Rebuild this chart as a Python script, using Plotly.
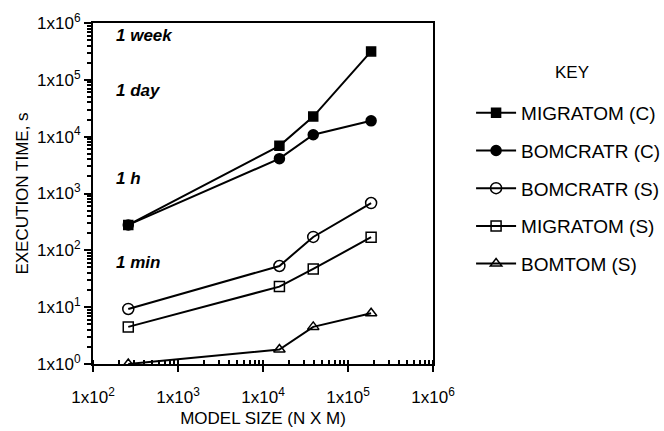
import plotly.graph_objects as go

# ---- data ----
model_size = [260, 15600, 39000, 187000]
migratom_c = [280, 6900, 22600, 316000]
bomcratr_c = [280, 4100, 10800, 19000]
bomcratr_s = [9.3, 53, 172, 680]
migratom_s = [4.5, 23, 47, 170]
bomtom_s = [1.0, 1.8, 4.5, 7.8]

series_names = ["MIGRATOM (C)", "BOMCRATR (C)", "BOMCRATR (S)", "MIGRATOM (S)", "BOMTOM (S)"]
series_values = [migratom_c, bomcratr_c, bomcratr_s, migratom_s, bomtom_s]
series_symbols = ["square", "circle", "circle-open", "square-open", "triangle-up-open"]
series_sizes = [9, 10, 11, 10, 10]

x_tick_vals = [1e2, 1e3, 1e4, 1e5, 1e6]
x_tick_text = ["1x10<sup>2</sup>", "1x10<sup>3</sup>", "1x10<sup>4</sup>", "1x10<sup>5</sup>", "1x10<sup>6</sup>"]
y_tick_vals = [1e0, 1e1, 1e2, 1e3, 1e4, 1e5, 1e6]
y_tick_text = ["1x10<sup>0</sup>", "1x10<sup>1</sup>", "1x10<sup>2</sup>", "1x10<sup>3</sup>",
               "1x10<sup>4</sup>", "1x10<sup>5</sup>", "1x10<sup>6</sup>"]

time_labels = ["1 week", "1 day", "1 h", "1 min"]
time_label_y = [0.962, 0.803, 0.545, 0.299]

FONT = "Liberation Sans, Arial, sans-serif"

fig = go.Figure()
for i, (name, vals, sym, sz) in enumerate(zip(series_names, series_values, series_symbols, series_sizes)):
    fig.add_trace(go.Scatter(
        x=model_size, y=vals, name=name, mode="lines+markers",
        legendgroup=f"g{i}",
        line=dict(color="black", width=2),
        marker=dict(symbol=sym, size=sz, color="black",
                    line=dict(color="black", width=1.5)),
    ))

for txt, yy in zip(time_labels, time_label_y):
    fig.add_annotation(
        x=0.062, y=yy, xref="paper", yref="paper", text=txt, showarrow=False,
        xanchor="left", yanchor="middle",
        font=dict(family=FONT, size=17, color="black", weight="bold", style="italic"),
    )

fig.add_annotation(
    x=1.409, y=0.856, xref="paper", yref="paper", text="KEY", showarrow=False,
    xanchor="center", yanchor="middle", font=dict(family=FONT, size=17, color="black"),
)

fig.update_layout(
    width=664, height=431,
    margin=dict(l=93, r=231, t=23, b=67, autoexpand=False),
    paper_bgcolor="white", plot_bgcolor="white",
    font=dict(family=FONT, size=17, color="black"),
    legend=dict(
        x=1.112, y=0.792, xanchor="left", yanchor="top",
        font=dict(size=19), tracegroupgap=10,
        itemwidth=40, bgcolor="rgba(0,0,0,0)",
    ),
    xaxis=dict(
        type="log", range=[2, 6],
        tickvals=x_tick_vals, ticktext=x_tick_text,
        ticks="outside", ticklen=6, tickwidth=1.5, tickcolor="black",
        ticklabelstandoff=11,
        showline=True, linecolor="black", linewidth=2, mirror=True,
        showgrid=False, zeroline=False,
        minor=dict(ticks="inside", ticklen=4, tickcolor="black", dtick="D1", showgrid=False),
        title=dict(text="MODEL SIZE (N X M)", standoff=6, font=dict(size=17)),
        tickfont=dict(size=17),
    ),
    yaxis=dict(
        type="log", range=[0, 6],
        tickvals=y_tick_vals, ticktext=y_tick_text,
        ticks="outside", ticklen=7, tickwidth=1.5, tickcolor="black",
        showline=True, linecolor="black", linewidth=2, mirror=True,
        showgrid=False, zeroline=False,
        minor=dict(ticks="outside", ticklen=4, tickcolor="black", dtick="D1", showgrid=False),
        title=dict(text="EXECUTION TIME, s", standoff=4, font=dict(size=17)),
        tickfont=dict(size=17),
    ),
)

fig.write_html("out.html")
